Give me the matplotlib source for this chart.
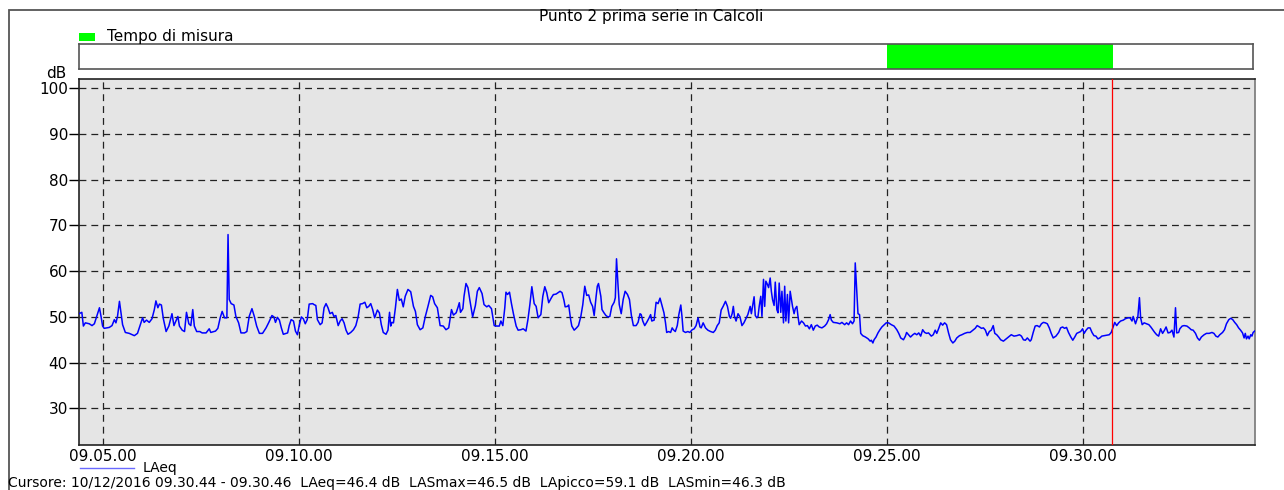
import matplotlib.pyplot as plt
from matplotlib.patches import Rectangle
from matplotlib.lines import Line2D

# tempo in minuti dopo le 09:00, LAeq in dB
t_min = [
    4.39, 4.46, 4.50, 4.55, 4.65, 4.72, 4.78, 4.84, 4.91, 4.95, 4.99, 5.03, 5.16, 5.23, 5.29, 5.33,
    5.37, 5.42, 5.46, 5.50, 5.57, 5.67, 5.80, 5.88, 5.94, 6.01, 6.05, 6.11, 6.18, 6.25, 6.31, 6.35,
    6.40, 6.44, 6.49, 6.54, 6.61, 6.68, 6.76, 6.81, 6.86, 6.91, 6.95, 7.02, 7.08, 7.13, 7.19, 7.24,
    7.29, 7.33, 7.39, 7.47, 7.53, 7.63, 7.71, 7.75, 7.87, 7.93, 7.99, 8.04, 8.10, 8.16, 8.19, 8.22,
    8.27, 8.34, 8.39, 8.46, 8.52, 8.61, 8.67, 8.73, 8.80, 8.86, 8.92, 8.99, 9.07, 9.16, 9.23, 9.31,
    9.36, 9.40, 9.45, 9.50, 9.55, 9.60, 9.71, 9.75, 9.80, 9.86, 9.91, 9.96, 10.01, 10.06, 10.11, 10.16,
    10.21, 10.26, 10.35,
    10.38, 10.43, 10.47, 10.54, 10.59, 10.64, 10.69, 10.74, 10.79, 10.85, 10.89, 10.94, 11.00, 11.05,
    11.10, 11.15, 11.20, 11.25, 11.32, 11.39, 11.45, 11.51, 11.56, 11.62, 11.68, 11.73, 11.78, 11.83,
    11.88, 11.93, 12.00, 12.05, 12.10, 12.15, 12.22, 12.27, 12.31, 12.34, 12.37, 12.41, 12.46, 12.51,
    12.56, 12.61, 12.66, 12.71, 12.78, 12.85, 12.92, 12.97, 13.02, 13.09, 13.16, 13.22, 13.29, 13.36,
    13.41, 13.46, 13.53, 13.60, 13.68, 13.75, 13.82, 13.89, 13.94, 14.01, 14.06, 14.09, 14.12, 14.18,
    14.21, 14.26, 14.31, 14.36, 14.43, 14.50, 14.55, 14.60, 14.67, 14.72, 14.79, 14.84, 14.91, 14.98,
    15.04, 15.11, 15.15, 15.20, 15.25, 15.28, 15.32, 15.37, 15.42, 15.47, 15.54, 15.59, 15.66, 15.72,
    15.79, 15.84, 15.89, 15.94, 16.00, 16.05, 16.10, 16.17, 16.22, 16.27, 16.32, 16.37, 16.44, 16.49,
    16.51, 16.56, 16.61, 16.66, 16.71, 16.76, 16.79, 16.85, 16.88, 16.93, 16.96, 17.02, 17.08, 17.13,
    17.19, 17.24, 17.29, 17.34, 17.39, 17.44, 17.49, 17.53, 17.58, 17.61, 17.64, 17.70, 17.73, 17.78,
    17.83, 17.88, 17.93, 17.98, 18.04, 18.07, 18.10, 18.14, 18.17, 18.22, 18.27, 18.32, 18.38, 18.43,
    18.48, 18.53, 18.60, 18.65, 18.70, 18.73, 18.77, 18.82, 18.87, 18.92, 18.97, 19.00, 19.06, 19.11,
    19.16, 19.21, 19.26, 19.31, 19.35, 19.38, 19.43, 19.48, 19.52, 19.55, 19.60, 19.65, 19.69, 19.74,
    19.77, 19.80, 19.86, 19.92, 19.97, 20.03, 20.08, 20.13, 20.18, 20.23, 20.26, 20.31, 20.37, 20.43,
    20.50, 20.57, 20.62, 20.67, 20.72, 20.77, 20.82, 20.88, 20.93, 20.98, 21.01, 21.05, 21.08, 21.11,
    21.15, 21.20, 21.25, 21.30, 21.35, 21.40, 21.45, 21.51, 21.54, 21.57, 21.61, 21.64, 21.68, 21.71,
    21.74, 21.78, 21.81, 21.85, 21.88, 21.91, 21.95, 21.98, 22.02, 22.05, 22.08, 22.12, 22.15, 22.19,
    22.22, 22.25, 22.29, 22.32, 22.36, 22.39, 22.42, 22.46, 22.49, 22.53,
    22.59, 22.63, 22.66, 22.70, 22.73, 22.76, 22.82, 22.87, 22.92, 22.97, 23.02, 23.07, 23.12, 23.17,
    23.22, 23.27, 23.34, 23.41, 23.46, 23.51, 23.55, 23.58, 23.63, 23.72, 23.80, 23.85, 23.92, 23.97,
    24.02, 24.07, 24.12, 24.16, 24.19, 24.23, 24.26, 24.30, 24.33, 24.38, 24.45, 24.52, 24.57, 24.60,
    24.64, 24.67, 24.72, 24.77, 24.82, 24.87, 24.92, 24.98, 25.04, 25.11, 25.18, 25.25, 25.30, 25.35,
    25.42, 25.47, 25.50, 25.55, 25.60, 25.66, 25.71, 25.76, 25.81, 25.86, 25.91, 25.96, 26.01, 26.06,
    26.13, 26.18, 26.23, 26.27, 26.32, 26.37, 26.42, 26.47, 26.52, 26.57, 26.62, 26.68, 26.73, 26.78,
    26.85, 26.91, 26.98, 27.05, 27.12, 27.19, 27.25, 27.30, 27.36, 27.41, 27.46, 27.51, 27.56, 27.61,
    27.66, 27.71, 27.75, 27.80, 27.85, 27.90, 27.97, 28.04, 28.10, 28.17, 28.24, 28.31, 28.38, 28.43,
    28.48, 28.53, 28.58,
    28.65, 28.68, 28.73, 28.78, 28.83, 28.89, 28.94, 28.99, 29.04, 29.09, 29.14, 29.19, 29.24, 29.31,
    29.38, 29.43, 29.48, 29.53, 29.58, 29.63, 29.69, 29.74, 29.79, 29.84, 29.89, 29.94, 29.99, 30.03,
    30.08, 30.13, 30.18, 30.23, 30.28, 30.33, 30.38, 30.43, 30.48, 30.54, 30.60, 30.67, 30.72, 30.77,
    30.81, 30.86, 30.91, 30.96, 31.03, 31.08, 31.15, 31.20, 31.25, 31.28, 31.34, 31.37, 31.40, 31.44,
    31.47, 31.51, 31.56, 31.62, 31.68, 31.73, 31.78, 31.83, 31.88, 31.93, 31.98, 32.03, 32.08, 32.12,
    32.17, 32.22, 32.27, 32.32, 32.36, 32.39, 32.44, 32.47, 32.53, 32.58, 32.65, 32.71, 32.76, 32.81,
    32.87, 32.92, 32.97, 33.02, 33.09, 33.15, 33.22, 33.29, 33.34, 33.39, 33.44, 33.49, 33.56, 33.61,
    33.66, 33.72, 33.77, 33.82, 33.87, 33.92, 33.97, 34.02, 34.07, 34.11, 34.14, 34.17, 34.21, 34.24,
    34.28, 34.31, 34.34, 34.38,
]
laeq = [
    50.7, 51.0, 48.0, 48.7, 48.5, 48.1, 48.5, 50.1, 52.0, 50.1, 48.0, 47.5, 47.7, 48.1, 49.4, 48.7,
    50.1, 53.4, 50.9, 48.3, 46.6, 46.4, 45.9, 46.4, 48.0, 49.8, 48.8, 49.3, 48.8, 49.6, 51.6, 53.5,
    52.0, 52.8, 52.6, 49.6, 46.8, 48.0, 50.7, 48.1, 49.1, 50.1, 48.0, 47.1, 46.8, 51.0, 48.5, 48.1,
    51.6, 48.0, 46.8, 46.8, 46.5, 46.5, 47.4, 46.6, 46.9, 47.5, 49.8, 51.2, 49.8, 49.8, 68.0, 53.8,
    52.9, 52.6, 50.1, 48.7, 46.5, 46.5, 46.8, 50.1, 51.8, 50.1, 48.0, 46.4, 46.4, 47.6, 48.8, 50.3,
    50.0, 48.8, 49.9, 49.3, 47.6, 46.2, 46.5, 48.1, 49.4, 49.1, 46.9, 46.1, 48.3, 50.0, 49.6, 48.5,
    49.4, 52.8, 52.9,
    52.7, 52.5, 49.4, 48.3, 48.7, 52.0, 52.9, 52.0, 50.7, 51.0, 50.1, 50.3, 48.1, 49.1,
    49.6, 48.7, 47.1, 46.2, 46.6, 47.2, 48.1, 50.1, 52.8, 52.9, 53.2, 52.0, 52.3, 52.9,
    51.6, 49.8, 51.5, 50.9, 48.3, 46.6, 46.2, 47.1, 51.0, 48.0, 48.8, 48.7, 52.0, 56.0,
    53.6, 53.9, 52.2, 54.5, 56.0, 55.5, 52.3, 51.2, 48.3, 47.2, 47.6, 50.0, 52.3, 54.7,
    54.4, 52.9, 52.0, 48.1, 48.0, 47.2, 47.6, 51.6, 50.4, 50.9, 52.2, 53.1, 51.0, 51.8,
    54.5, 57.3, 56.4, 53.6, 50.0, 52.5, 55.6, 56.4, 55.1, 52.7, 52.2, 52.5, 51.8, 48.1,
    48.0, 48.0, 49.1, 48.1, 52.0, 55.4, 54.9, 55.4, 52.9, 50.7, 48.0, 47.1, 47.2, 47.4,
    46.9, 49.4, 52.7, 56.6, 52.9, 52.3, 49.8, 50.5, 54.5, 56.6, 55.3, 53.1, 54.2, 54.9,
    54.9, 55.0, 55.3, 55.6, 55.3, 53.6, 52.2, 52.3, 52.6, 49.4, 48.0, 47.1, 47.6, 48.1,
    50.1, 52.7, 56.7, 54.7, 54.8, 53.2, 52.3, 50.3, 54.5, 56.7, 57.3, 54.5, 51.6, 50.9,
    50.3, 50.0, 50.1, 52.3, 53.2, 54.2, 62.7, 56.7, 52.7, 50.7, 53.8, 55.6, 54.9, 53.8,
    50.3, 48.1, 48.1, 48.8, 50.7, 50.5, 49.1, 48.1, 48.8, 49.6, 50.5, 49.1, 49.3, 53.2,
    52.9, 54.1, 52.5, 50.9, 48.7, 46.6, 46.8, 46.6, 47.6, 47.2, 46.8, 48.1, 50.5, 52.6,
    50.1, 46.9, 46.6, 46.8, 46.6, 47.2, 47.4, 48.1, 49.8, 47.8, 47.6, 48.7, 47.6, 47.1,
    46.8, 46.6, 47.1, 48.1, 48.7, 51.5, 52.3, 53.4, 52.3, 50.1, 49.7, 50.7, 52.3, 50.1,
    49.1, 50.7, 50.0, 48.1, 48.7, 49.6, 50.5, 52.3, 50.7, 52.3, 54.4, 50.3, 49.8, 50.1,
    52.3, 54.5, 50.1, 58.2, 52.3, 57.8, 57.1, 56.4, 58.5, 55.6, 53.8, 52.5, 57.6, 51.6,
    50.9, 57.4, 51.0, 55.6, 48.7, 56.7, 49.1, 54.9, 48.7, 55.6,
    52.3, 50.7, 51.8, 52.3, 50.1, 48.3, 49.1, 48.7, 48.0, 48.1, 47.4, 48.3, 47.1, 48.0,
    48.2, 47.8, 47.6, 48.0, 48.5, 49.4, 50.5, 49.3, 48.8, 48.7, 48.5, 48.8, 48.3, 48.7,
    48.3, 49.1, 48.5, 49.1, 61.8, 55.3, 50.7, 50.5, 46.4, 45.9, 45.6, 45.2, 44.7, 44.9,
    44.3, 45.0, 45.6, 46.5, 47.2, 47.8, 48.2, 48.7, 48.7, 48.3, 48.0, 47.2, 46.4, 45.4,
    45.0, 45.8, 46.6, 46.1, 45.6, 46.1, 46.4, 46.1, 46.5, 45.8, 47.2, 46.6, 46.4, 46.5,
    45.8, 46.1, 47.1, 46.4, 47.5, 48.7, 48.2, 48.7, 48.3, 46.5, 45.0, 44.3, 44.7, 45.4,
    45.9, 46.1, 46.4, 46.6, 46.6, 47.1, 47.5, 48.1, 47.8, 47.5, 47.6, 47.1, 45.9, 46.8,
    47.1, 48.1, 46.4, 46.1, 45.6, 45.0, 44.7, 45.2, 45.6, 46.1, 45.8, 45.9, 46.1, 45.8,
    45.0, 44.9, 45.4,
    44.7, 45.0, 46.6, 48.0, 48.1, 47.8, 48.5, 48.8, 48.7, 48.5, 47.6, 46.4, 45.4, 45.8,
    46.6, 47.6, 47.8, 47.5, 47.7, 46.6, 45.6, 44.9, 45.6, 46.4, 46.6, 46.8, 47.4, 46.4,
    47.1, 47.6, 47.6, 46.6, 45.9, 45.8, 45.2, 45.4, 45.8, 45.9, 46.0, 46.1, 46.6, 47.8,
    48.8, 48.1, 48.7, 49.1, 49.3, 49.6, 49.8, 49.8, 49.1, 50.1, 48.5, 49.3, 50.1, 54.2,
    49.8, 48.3, 48.7, 48.5, 48.3, 47.8, 47.2, 46.6, 46.1, 45.8, 47.4, 46.4, 47.1, 47.8,
    46.5, 46.6, 47.1, 45.6, 52.0, 46.5, 46.6, 47.4, 48.0, 48.1, 48.0, 47.6, 47.2, 47.1,
    46.4, 45.4, 44.9, 45.6, 46.1, 46.4, 46.4, 46.6, 46.4, 45.8, 45.6, 46.1, 46.6, 47.2,
    48.5, 49.4, 49.7, 49.4, 48.8, 48.3, 47.6, 47.1, 46.5, 45.4, 46.4, 45.2, 45.8, 45.2,
    46.1, 45.8, 46.6, 46.9,
]

xtick_vals = [5, 10, 15, 20, 25, 30]
xtick_labels = ['09.05.00', '09.10.00', '09.15.00', '09.20.00', '09.25.00', '09.30.00']
ytick_vals = [30, 40, 50, 60, 70, 80, 90, 100]
x_range = (4.388, 34.388)
y_range = (22, 102)
misura_inizio = 25.0
misura_fine = 30 + 46 / 60
cursore = 30 + 44 / 60
titolo = 'Punto 2 prima serie in Calcoli'
testo_cursore = ('Cursore: 10/12/2016 09.30.44 - 09.30.46  LAeq=46.4 dB  '
                 'LASmax=46.5 dB  LApicco=59.1 dB  LASmin=46.3 dB')

plt.rcParams['font.family'] = 'DejaVu Sans'
W, H = 1284, 490
fig = plt.figure(figsize=(W / 100, H / 100), dpi=100)


def fx(px):
    return px / W


def fy(py):
    return 1 - py / H


# cornice esterna
fig.add_artist(Rectangle((fx(9), -0.1), 2, fy(10) + 0.1, transform=fig.transFigure,
                         fill=False, edgecolor='#555555', lw=1.3))

fig.text(fx(651), fy(17), titolo, ha='center', va='center', fontsize=11)

# legenda tempo di misura
fig.add_artist(Rectangle((fx(79), fy(41)), fx(95) - fx(79), fy(33) - fy(41),
                         transform=fig.transFigure, facecolor='#00ff00', edgecolor='none'))
fig.text(fx(107), fy(37), 'Tempo di misura', ha='left', va='center', fontsize=11)

# striscia superiore
strip = fig.add_axes([fx(79), fy(69.5), fx(1253) - fx(79), fy(44.5) - fy(69.5)])
span = x_range[1] - x_range[0]
strip.set_xlim(x_range[0], x_range[0] + span * 1174 / 1176)
strip.set_ylim(0, 1)
strip.axvspan(misura_inizio, misura_fine, color='#00ff00', lw=0)
strip.set_xticks([])
strip.set_yticks([])
for s in strip.spines.values():
    s.set_color('#555555')
    s.set_linewidth(1.2)

# grafico principale
ax = fig.add_axes([fx(79), fy(445), fx(1255) - fx(79), fy(79) - fy(445)])
ax.set_facecolor('#e5e5e5')
ax.plot(t_min, laeq, color='#0000ff', lw=1.1, zorder=3)
ax.axvline(cursore, color='#ff0000', lw=0.9, zorder=4)

ax.set_xlim(*x_range)
ax.set_ylim(*y_range)
ax.set_xticks(xtick_vals)
ax.set_xticklabels(xtick_labels)
ax.set_yticks(ytick_vals)
ax.tick_params(axis='x', length=0, pad=3, labelsize=11)
ax.tick_params(axis='y', length=7, width=1, direction='out', pad=1, labelsize=11)
ax.grid(True, color='#222222', lw=0.9, linestyle=(0, (5.5, 4)), zorder=1)
ax.set_axisbelow(True)
for name, s in ax.spines.items():
    s.set_color('#222222' if name in ('left', 'bottom', 'top') else '#777777')
    s.set_linewidth(1.2)

fig.text(fx(56), fy(73), 'dB', ha='center', va='center', fontsize=11)

# legenda inferiore
fig.add_artist(Line2D([fx(80), fx(134)], [fy(468), fy(468)], transform=fig.transFigure,
                      color='#6a6aff', lw=1))
fig.text(fx(143), fy(468), 'LAeq', ha='left', va='center', fontsize=10)

fig.text(fx(8), fy(490), testo_cursore, ha='left', va='bottom', fontsize=10)

fig.savefig('out.png', dpi=100)
